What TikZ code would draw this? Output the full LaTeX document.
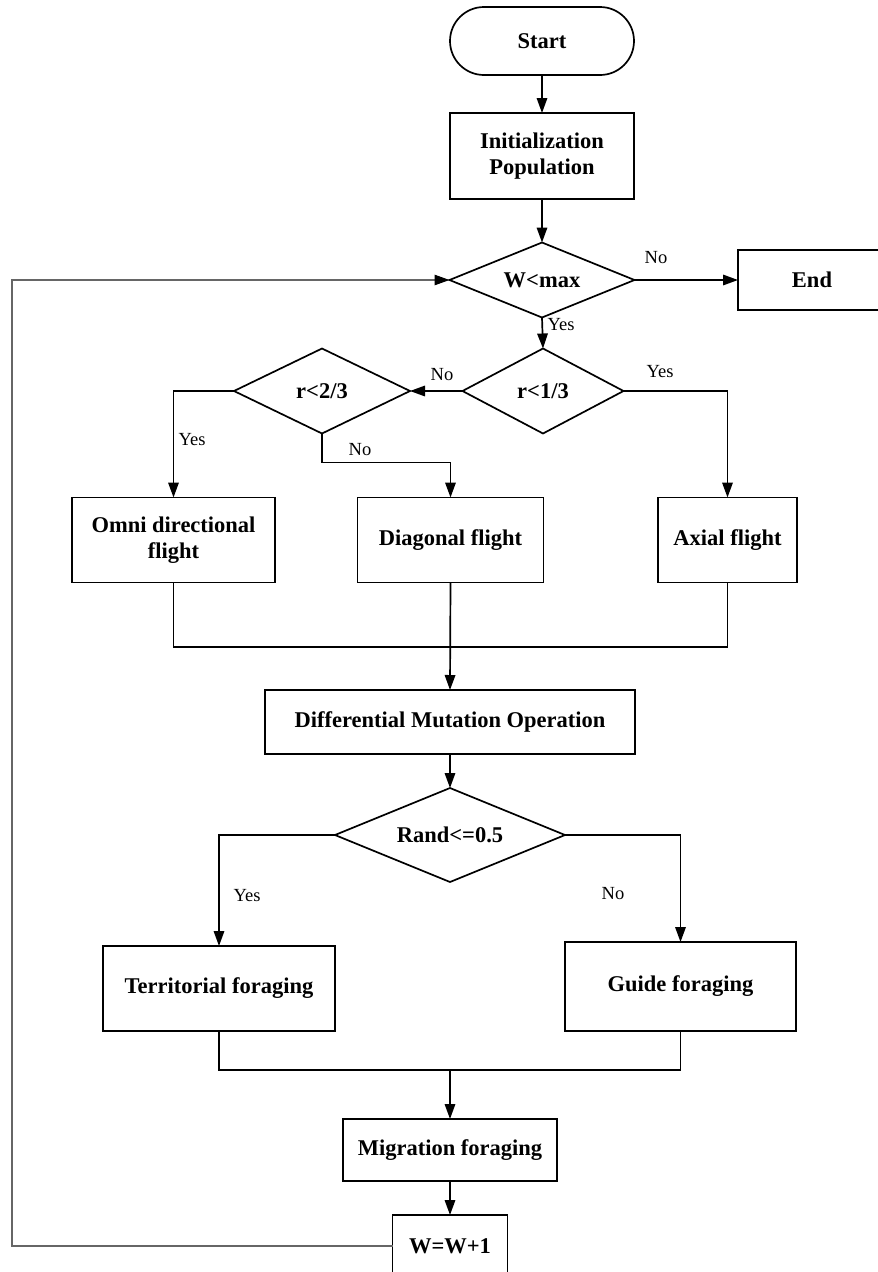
\documentclass[tikz,border=0pt]{standalone}
\usepackage{fontspec}
\setmainfont{Liberation Serif}
\usetikzlibrary{shapes.geometric,arrows.meta}
\begin{document}
\begin{tikzpicture}[x=1pt,y=-1pt,
  every node/.style={inner sep=0pt, outer sep=0pt},
  box/.style={draw, line width=1.7pt, rectangle, align=center,
    font=\fontsize{22.5}{26}\selectfont\bfseries},
  term/.style={box, rounded corners=34pt},
  dec/.style={draw, line width=1.7pt, diamond, align=center,
    font=\fontsize{22.5}{26}\selectfont\bfseries},
  lbl/.style={font=\fontsize{18.5}{20}\selectfont},
  conn/.style={line width=1.7pt},
  arr/.style={conn, -{Triangle[length=15pt,width=10.5pt]}},
  back/.style={line width=1.1pt, draw=black!60, -{Triangle[length=15pt,width=10.5pt,color=black]}}
]
\useasboundingbox (0,0) rectangle (878,1272);

% nodes
\node[term, minimum width=184pt, minimum height=68pt] (start) at (542,41) {Start};
\node[box, minimum width=184pt, minimum height=86pt] (init) at (542,156) {Initialization\\Population};
\node[dec, minimum width=185pt, minimum height=75pt, aspect=2.47] (wmax) at (542,280) {W<max};
\node[box, minimum width=148pt, minimum height=60pt] (end) at (812,280) {End};
\node[dec, minimum width=161pt, minimum height=85pt, aspect=1.9] (r13) at (543,391) {r<1/3};
\node[dec, minimum width=176pt, minimum height=85pt, aspect=2.07] (r23) at (322,391) {r<2/3};
\node[box, minimum width=203pt, minimum height=85pt] (omni) at (173.5,540) {Omni directional\\flight};
\node[box, minimum width=186pt, minimum height=85pt] (diag) at (450.5,540) {Diagonal flight};
\node[box, minimum width=139pt, minimum height=85pt] (axial) at (727.5,540) {Axial flight};
\node[box, minimum width=370pt, minimum height=64pt] (dmo) at (450,722) {Differential Mutation Operation};
\node[dec, minimum width=230pt, minimum height=94pt, aspect=2.45] (rand) at (450,835) {Rand<=0.5};
\node[box, minimum width=232pt, minimum height=85pt] (terr) at (219,988.5) {Territorial foraging};
\node[box, minimum width=231pt, minimum height=89pt] (guide) at (680.5,986.5) {Guide foraging};
\node[box, minimum width=214pt, minimum height=62pt] (mig) at (450,1150) {Migration foraging};
\node[box, minimum width=115pt, minimum height=62pt] (winc) at (450,1246) {W=W+1};

% labels
\node[lbl] (lno1) at (656,258) {No};
\node[lbl] (lyes1) at (561,325) {Yes};
\node[lbl] (lno2) at (442,375) {No};
\node[lbl] (lyes2) at (660,372) {Yes};
\node[lbl] (lyes3) at (192,440) {Yes};
\node[lbl] (lno3) at (360,450) {No};
\node[lbl] (lyes4) at (247,896) {Yes};
\node[lbl] (lno4) at (613,894) {No};

% junctions
\coordinate (j1) at (450.5,647);
\coordinate (j2) at (450,1070);
\coordinate (loopc) at (12,1246);

% connectors
\draw[arr] (start) -- (init);
\draw[arr] (init) -- (wmax);
\draw[arr] (wmax.east) -- (end.west);
\draw[arr] (wmax.south) -- (r13.north);
\draw[arr] (r13.west) -- (r23.east);
\draw[arr] (r13.east) -| (axial.north);
\draw[arr] (r23.west) -| (omni.north);
\draw[arr] (r23.south) -- ++(0,29) -| (diag.north);
\draw[conn] (omni.south) |- (j1);
\draw[conn] (axial.south) |- (j1);
\draw[arr] (diag.south) -- (dmo.north);
\draw[arr] (dmo.south) -- (rand.north);
\draw[arr] (rand.west) -| (terr.north);
\draw[arr] (rand.east) -| (guide.north);
\draw[conn] (terr.south) |- (j2);
\draw[conn] (guide.south) |- (j2);
\draw[arr] (j2) -- (mig.north);
\draw[arr] (mig.south) -- (winc.north);
\draw[back] (winc.west) -- (loopc) |- (wmax.west);
\end{tikzpicture}
\end{document}
